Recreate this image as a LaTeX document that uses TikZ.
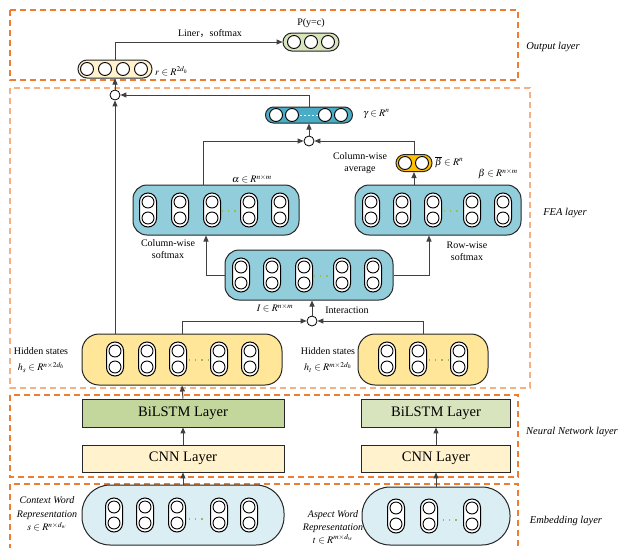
\documentclass[tikz,border=0pt]{standalone}
\usepackage{mathptmx}
\usepackage{fontspec}
\setmainfont{Liberation Serif}
\newfontfamily\cjk{Noto Sans CJK SC}
\usetikzlibrary{arrows.meta}
\definecolor{teal1}{HTML}{4BACC6}
\definecolor{teal2}{HTML}{92CDDC}
\definecolor{hidfill}{HTML}{FFE699}
\definecolor{cream}{HTML}{FFF2CC}
\definecolor{pfill}{HTML}{D8E4BC}
\definecolor{lstmA}{HTML}{C3D69B}
\definecolor{lstmB}{HTML}{D7E4BD}
\definecolor{embfill}{HTML}{DAEEF3}
\definecolor{gold}{HTML}{FFC000}
\definecolor{dotgreen}{HTML}{9BBB59}
\definecolor{orD}{HTML}{ED7D31}
\definecolor{orL}{HTML}{F4B183}
\definecolor{linec}{HTML}{404040}
\tikzset{
  layerdash/.style={line width=1.1pt, dash pattern=on 6pt off 4pt},
  laylab/.style={font=\fontsize{10.5}{12}\selectfont\itshape},
  lbl/.style={font=\fontsize{10}{12}\selectfont, align=center, inner sep=1pt},
  arr/.style={draw=linec, line width=1pt, -{Triangle[length=6pt,width=5pt]}},
  vecbox/.style={draw=black!85, line width=1pt, rounded corners=9pt, inner sep=0pt},
  bigbox/.style={draw=black!85, line width=1pt, rounded corners=14pt, inner sep=0pt},
  rectbox/.style={draw=black!85, line width=0.9pt, inner sep=0pt, font=\fontsize{14.5}{16}\selectfont},
  circ/.style={draw=black, line width=0.9pt, fill=white},
  odot/.style={circle, draw=black, line width=0.8pt, fill=white, minimum size=10pt, inner sep=0pt,
    path picture={\fill (path picture bounding box.center) circle (0.9pt);}},
  capsule/.pic={
    \draw[line width=1pt, fill=white, rounded corners=8.5pt] (-8.5,-17) rectangle (8.5,17);
    \draw[circ] (0,-8) circle (6pt);
    \draw[circ] (0,8) circle (6pt);
  }
}
\begin{document}
\begin{tikzpicture}[x=1pt,y=-1pt]
\useasboundingbox (0,0) rectangle (622,547);
% layer frames
\draw[layerdash, draw=orD] (10,10) rectangle (518,80);
\draw[layerdash, draw=orL] (10,88) rectangle (530,388);
\draw[layerdash, draw=orD] (10,395) rectangle (518,477);
\draw[layerdash, draw=orD] (10,550) -- (10,484) -- (518,484) -- (518,550);
\node[laylab] (lOut) at (553,47) {Output layer};
\node[laylab] (lFea) at (565,213) {FEA layer};
\node[laylab] (lNN) at (572,432) {Neural Network layer};
\node[laylab] (lEmb) at (566,521) {Embedding layer};

% output layer
\node[vecbox, fill=cream, minimum width=74pt, minimum height=18pt] (r) at (115,69) {};
\foreach \x in {87,105,123,141} \draw[circ] (\x,69) circle (6.5pt);
\node[lbl, anchor=west] (rlab) at (154,71) {$r\in R^{2d_h}$};
\node[vecbox, fill=pfill, minimum width=56pt, minimum height=18pt] (P) at (311,42) {};
\foreach \x in {294,311,328} \draw[circ] (\x,42) circle (6.5pt);
\node[lbl] (Plab) at (311,23) {P(y=c)};
\draw[arr] (r.north) |- (P.west);
\node[lbl] (lin) at (210,34) {Liner{\cjk ，}softmax};

% FEA layer
\node[odot] (dT) at (115,95) {};
\node[vecbox, fill=teal1, minimum width=87pt, minimum height=16pt, rounded corners=8pt] (gam) at (309,115) {};
\foreach \x in {276,292,325,341} \draw[circ] (\x,115) circle (6.5pt);
\draw[white, line width=1pt, dash pattern=on 1.5pt off 2.5pt] (300,115) -- (318,115);
\node[lbl, anchor=west] (gamlab) at (362,114) {$\gamma\in R^n$};
\node[odot] (dG) at (309,141) {};

\node[bigbox, fill=teal2, minimum width=166pt, minimum height=50pt] (alpha) at (216,210) {};
\foreach \x in {148,180,212,249,280} \pic at (\x,210) {capsule};
\draw[dotgreen, line width=1.3pt, dash pattern=on 1.2pt off 5pt] (222,211) -- (239,211);
\node[lbl] (alab) at (252,179) {$\alpha\in R^{n\times m}$};
\node[lbl] (cws) at (168,249) {Column-wise\\softmax};

\node[bigbox, fill=teal2, minimum width=166pt, minimum height=50pt] (beta) at (438,210) {};
\foreach \x in {371,402,433,472,503} \pic at (\x,210) {capsule};
\draw[dotgreen, line width=1.3pt, dash pattern=on 1.2pt off 5pt] (444,211) -- (462,211);
\node[lbl] (blab) at (498,174) {$\beta\in R^{n\times m}$};
\node[lbl] (rws) at (467,251) {Row-wise\\softmax};

\node[vecbox, fill=gold, minimum width=36pt, minimum height=17pt, rounded corners=8.5pt] (bb) at (414,163) {};
\foreach \x in {405,422} \draw[circ] (\x,163) circle (6.5pt);
\node[lbl, anchor=west] (bblab) at (434,162) {$\overline{\beta}\in R^n$};
\node[lbl] (cwa) at (360,163) {Column-wise\\average};

\node[bigbox, fill=teal2, minimum width=168pt, minimum height=50pt] (Ib) at (309,275) {};
\foreach \x in {241,272,304,342,373} \pic at (\x,275) {capsule};
\draw[dotgreen, line width=1.3pt, dash pattern=on 1.2pt off 5pt] (314,276) -- (332,276);
\node[lbl] (Ilab) at (275,308) {$I\in R^{n\times m}$};
\node[lbl] (inter) at (347,310) {Interaction};
\node[odot] (dI) at (312,321) {};

\node[bigbox, fill=hidfill, minimum width=200pt, minimum height=51pt, rounded corners=17pt] (hl) at (182,359.5) {};
\foreach \x in {115,147,178,219,250} \pic at (\x,359) {capsule};
\draw[dotgreen, line width=1.3pt, dash pattern=on 1.2pt off 5pt] (189,360) -- (208,360);
\node[lbl, font=\fontsize{10}{16}\selectfont] (hsl) at (41,360) {Hidden states\\$h_s\in R^{n\times 2d_h}$};

\node[bigbox, fill=hidfill, minimum width=130pt, minimum height=51pt, rounded corners=17pt] (hr) at (423,359.5) {};
\foreach \x in {387,418,459} \pic at (\x,359) {capsule};
\draw[dotgreen, line width=1.3pt, dash pattern=on 1.2pt off 5pt] (429,360) -- (448,360);
\node[lbl, font=\fontsize{10}{16}\selectfont] (hsr) at (328,360) {Hidden states\\$h_t\in R^{m\times 2d_h}$};

% NN layer
\node[rectbox, fill=lstmA, minimum width=202pt, minimum height=28pt] (bl) at (183,413) {BiLSTM Layer};
\node[rectbox, fill=lstmB, minimum width=149pt, minimum height=28pt] (br) at (436,413) {BiLSTM Layer};
\node[rectbox, fill=cream, minimum width=202pt, minimum height=27pt] (cl) at (183,458.5) {CNN Layer};
\node[rectbox, fill=cream, minimum width=149pt, minimum height=27pt] (cr) at (436,458.5) {CNN Layer};

% Embedding layer
\node[bigbox, fill=embfill, minimum width=202pt, minimum height=60pt, rounded corners=28pt] (el) at (183,515) {};
\foreach \x in {114,145,177,219,249} \pic at (\x,515) {capsule};
\draw[dotgreen, line width=1.3pt, dash pattern=on 1.2pt off 5pt] (189,519) -- (206,519);
\node[lbl, font=\fontsize{10}{13.5}\selectfont] (ctx) at (47,514) {\textit{Context Word}\\\textit{Representation}\\$s\in R^{n\times d_w}$};
\node[bigbox, fill=embfill, minimum width=148pt, minimum height=58pt, rounded corners=28pt] (er) at (436,516) {};
\foreach \x in {396,429,472} \pic at (\x,516) {capsule};
\draw[dotgreen, line width=1.3pt, dash pattern=on 1.2pt off 5pt] (443,520) -- (460,520);
\node[lbl, font=\fontsize{10}{13}\selectfont] (asp) at (333,527) {\textit{Aspect Word}\\\textit{Representation}\\$t\in R^{m\times d_w}$};

% connectors
\draw[arr] (dT.north) -- (r.south);
\draw[arr] (hl.north -| dT) -- (dT.south);
\draw[arr] (gam.north) |- (dT.east);
\draw[arr] (dG.north) -- (gam.south);
\draw[arr] ([xshift=-13pt]alpha.north) |- (dG.west);
\draw[arr] (bb.north) |- (dG.east);
\draw[arr] (beta.north -| bb) -- (bb.south);
\draw[arr] (Ib.west) -| ([xshift=-10pt]alpha.south);
\draw[arr] (Ib.east) -| ([xshift=-9pt]beta.south);
\draw[arr] (dI.north) -- (dI |- Ib.south);
\draw[arr] (hl.north) |- (dI.west);
\draw[arr] (hr.north) |- (dI.east);
\draw[arr] (bl.north) -- (hl.south);
\draw[arr] (cl.north) -- (bl.south);
\draw[arr] (cr.north) -- (br.south);
\draw[arr] (el.north) -- (cl.south);
\draw[arr] (er.north) -- (cr.south);
\end{tikzpicture}
\end{document}
